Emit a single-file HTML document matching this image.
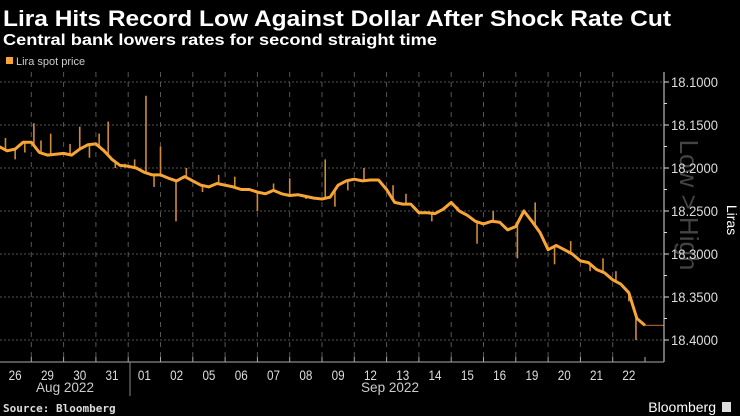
<!DOCTYPE html>
<html><head><meta charset="utf-8"><style>
html,body{margin:0;padding:0;background:#000;}
svg{display:block;font-family:"Liberation Sans",sans-serif;}
</style></head><body>
<svg id="chart" width="740" height="416" viewBox="0 0 740 416">
<text x="3" y="26" fill="#fff" font-family="Liberation Sans, sans-serif" font-weight="bold" font-size="22" textLength="668" lengthAdjust="spacingAndGlyphs">Lira Hits Record Low Against Dollar After Shock Rate Cut</text>
<text x="3" y="45" fill="#fff" font-family="Liberation Sans, sans-serif" font-weight="bold" font-size="15.5" textLength="434" lengthAdjust="spacingAndGlyphs">Central bank lowers rates for second straight time</text>
<rect x="6" y="57" width="7" height="7" fill="#f7a535"/>
<text x="16" y="65" fill="#ccc" font-size="11">Lira spot price</text>
<g id="grid"></g>
<text transform="translate(680,205) rotate(90)" fill="#444" font-size="26" text-anchor="middle" font-family="Liberation Sans, sans-serif">Low &gt; High</text>
<g id="series"></g>
<line x1="664" y1="72" x2="664" y2="362" stroke="#ddd" stroke-width="1"/>
<g id="yaxis"></g>
<g id="xaxis"></g>
<text transform="translate(727,220) rotate(90)" fill="#fff" font-size="14" text-anchor="middle">Liras</text>
<line x1="130" y1="362" x2="130" y2="396" stroke="#888"/>
<text x="65" y="392" fill="#ccc" font-size="14" text-anchor="middle" textLength="58" lengthAdjust="spacingAndGlyphs">Aug 2022</text>
<text x="390" y="392" fill="#ccc" font-size="14" text-anchor="middle" textLength="58" lengthAdjust="spacingAndGlyphs">Sep 2022</text>
<text x="3" y="412" fill="#ddd" font-family="DejaVu Sans Mono, monospace" font-weight="bold" font-size="11">Source: Bloomberg</text>
<text x="716" y="412" fill="#fff" font-size="14" text-anchor="end">Bloomberg</text>
<rect x="722" y="402" width="9" height="10" fill="#ddd"/>
</svg>
<script>
const categories=["26","29","30","31","01","02","05","06","07","08","09","12","13","14","15","16","19","20","21","22"];
const yTicks=[18.10,18.15,18.20,18.25,18.30,18.35,18.40];
const yTickLabels=["18.1000","18.1500","18.2000","18.2500","18.3000","18.3500","18.4000"];
const prices=[
18.175,18.180,18.178,18.170, 18.170,18.182,18.185,18.184, 18.183,18.185,18.178,18.173,
18.172,18.180,18.190,18.197, 18.198,18.200,18.205,18.208, 18.208,18.212,18.215,18.210,
18.215,18.220,18.222,18.218, 18.220,18.222,18.225,18.225, 18.228,18.230,18.226,18.230,
18.232,18.231,18.233,18.235, 18.236,18.234,18.220,18.215, 18.213,18.215,18.214,18.214,
18.225,18.240,18.242,18.242, 18.252,18.252,18.253,18.248, 18.240,18.250,18.255,18.262,
18.265,18.262,18.263,18.272, 18.268,18.250,18.262,18.275, 18.295,18.290,18.295,18.300,
18.308,18.310,18.318,18.322, 18.330,18.335,18.345,18.375, 18.383];
const spikeTimes=[0.2,0.5,0.8,1.08,1.3,1.6,2.2,2.5,2.8,3.1,3.38,3.6,3.9,4.2,4.55,4.8,5.0,5.48,5.8,6.3,6.8,7.3,8.0,8.5,9.0,9.5,10.1,10.4,10.8,11.3,12.2,12.6,13.4,14.2,14.8,15.3,15.8,16.05,16.6,17.2,17.7,18.3,18.7,19.1,19.5,19.72];
const spikeValues=[18.165,18.190,18.182,18.148,18.168,18.160,18.172,18.152,18.188,18.160,18.146,18.200,18.195,18.190,18.116,18.222,18.175,18.262,18.200,18.228,18.208,18.210,18.250,18.218,18.212,18.236,18.190,18.245,18.226,18.200,18.220,18.230,18.262,18.245,18.288,18.250,18.270,18.305,18.240,18.312,18.285,18.320,18.305,18.320,18.355,18.400];
const lastValue=18.383;

const ns="http://www.w3.org/2000/svg";
const X0=-1,DW=32.3,Y0=82,PX=43/0.05;
const xs=t=>X0+t*DW;
const ys=v=>Y0+(v-18.10)*PX;
function mk(tag,attrs,parent){const e=document.createElementNS(ns,tag);for(const k in attrs)e.setAttribute(k,attrs[k]);parent.appendChild(e);return e;}
const grid=document.getElementById('grid'),yax=document.getElementById('yaxis'),xax=document.getElementById('xaxis'),ser=document.getElementById('series');
yTicks.forEach((v,i)=>{
  const g=mk('line',{x1:0,x2:664,y1:ys(v),y2:ys(v),stroke:'#555','stroke-dasharray':'2,2'},grid);
  
  
  const tk=mk('line',{x1:664,x2:669,y1:ys(v),y2:ys(v),stroke:'#ddd'},yax);
  
  
  const t=mk('text',{x:671,y:ys(v)+5,fill:'#ddd','font-size':14,textLength:47,lengthAdjust:'spacingAndGlyphs'},yax);
  t.textContent=yTickLabels[i];
  
  
  if(i<yTicks.length-1){const m=mk('line',{x1:664,x2:667,y1:ys(v+0.025),y2:ys(v+0.025),stroke:'#ddd'},yax);
  
  }
});
categories.forEach((c,i)=>{
  if(i>0){const g=mk('line',{x1:xs(i),x2:xs(i),y1:72,y2:362,stroke:'#555','stroke-dasharray':'5,5'},grid);
  
  }
  const tk=mk('line',{x1:xs(i+1),x2:xs(i+1),y1:357,y2:362,stroke:'#aaa'},xax);
  
  
  const t=mk('text',{x:xs(i+0.5),y:380,fill:'#ddd','font-size':14,'text-anchor':'middle',textLength:13,lengthAdjust:'spacingAndGlyphs'},xax);
  t.textContent=c;
  
  
});
const bl=mk('line',{x1:0,x2:664,y1:362,y2:362,stroke:'#aaa'},xax);


const n=prices.length-1;
function interp(t){const f=t/20*n,i=Math.min(Math.floor(f),n-1),r=f-i;return prices[i]*(1-r)+prices[i+1]*r;}
spikeTimes.forEach((t,i)=>{
  const s=mk('line',{x1:xs(t),x2:xs(t),y1:ys(interp(t)),y2:ys(spikeValues[i]),stroke:'#d08a38','stroke-width':1.6},ser);
  
  
});
const pts=prices.map((v,i)=>xs(i*20/n).toFixed(1)+','+ys(v).toFixed(1)).join(' ');
const line=mk('polyline',{points:pts,fill:'none',stroke:'#f7a535','stroke-width':3,'stroke-linejoin':'round'},ser);


const fl=mk('line',{x1:xs(20),x2:664,y1:ys(lastValue),y2:ys(lastValue),stroke:'#9a5a2a','stroke-width':1.3},ser);


</script>
</body></html>
